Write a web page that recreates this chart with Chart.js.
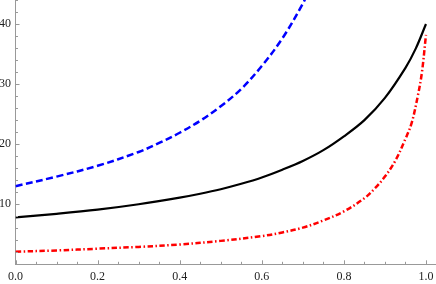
<!DOCTYPE html>
<html>
<head>
<meta charset="utf-8">
<script src="https://cdn.jsdelivr.net/npm/chart.js@4.4.0/dist/chart.umd.min.js"></script>
<style>
  html, body { margin: 0; padding: 0; background: #fff; }
  #wrap { width: 436px; height: 284px; }
</style>
</head>
<body>
<div id="wrap"><canvas id="plot"></canvas></div>
<script>
// values
const blackX = [0, 0.1, 0.2, 0.3, 0.4, 0.45, 0.5, 0.55, 0.6, 0.65, 0.7, 0.75, 0.8, 0.85, 0.9, 0.95, 0.975, 1.0];
const blackY = [7.8, 8.4, 9.1, 10.0, 11.1, 11.75, 12.5, 13.4, 14.45, 15.75, 17.2, 19.0, 21.3, 24.0, 27.7, 32.7, 35.9, 40.0];

const blueX = [0, 0.1, 0.2, 0.3, 0.35, 0.4, 0.45, 0.5, 0.55, 0.6, 0.65, 0.7, 0.72];
const blueY = [13.0, 14.6, 16.4, 18.7, 20.2, 21.9, 23.9, 26.3, 29.2, 33.0, 37.6, 43.4, 46.5];

const redX = [0, 0.1, 0.2, 0.3, 0.4, 0.5, 0.6, 0.65, 0.7, 0.75, 0.8, 0.85, 0.875, 0.9, 0.925, 0.95, 0.965, 0.98, 0.99, 1.0];
const redY = [2.1, 2.3, 2.6, 2.9, 3.3, 3.9, 4.7, 5.3, 6.1, 7.3, 8.8, 11.0, 12.6, 14.6, 17.2, 20.9, 23.5, 28.0, 31.9, 38.2];

const xTicks = [0, 0.2, 0.4, 0.6, 0.8, 1.0];
const yTicks = [10, 20, 30, 40];

const axisGray = '#999999';
const labelFont = { family: 'Liberation Serif', size: 12 };

function toPoints(xs, ys) {
    return xs.map((x, i) => ({ x: x, y: ys[i] }));
}

// Mathematica style tick marks pointing into the plot
const innerTicks = {
    id: 'innerTicks',
    afterDraw(chart) {
        const c = chart.ctx;
        const xs = chart.scales.x;
        const ys = chart.scales.y;
        const y0 = chart.chartArea.bottom;
        const x0 = chart.chartArea.left;
        c.save();
        c.strokeStyle = axisGray;
        c.lineWidth = 1;
        c.beginPath();
        for (let i = 0; i <= 20; i++) {
            const v = i * 0.05;
            const px = Math.round(xs.getPixelForValue(v)) + 0.5;
            const len = (i % 4 === 0) ? 4 : 2.5;
            c.moveTo(px, y0);
            c.lineTo(px, y0 - len);
        }
        for (let i = 1; i <= 22; i++) {
            const v = i * 2;
            const py = Math.round(ys.getPixelForValue(v)) + 0.5;
            const len = (i % 5 === 0) ? 4 : 2.5;
            c.moveTo(x0, py);
            c.lineTo(x0 + len, py);
        }
        c.stroke();
        c.restore();
    }
};

new Chart(document.getElementById('plot'), {
    type: 'line',
    data: {
        datasets: [{
            data: toPoints(blackX, blackY),
            borderColor: '#000000',
            borderWidth: 2.2
        }, {
            data: toPoints(blueX, blueY),
            borderColor: '#0000ff',
            borderWidth: 2.5,
            borderDash: [7, 3.5]
        }, {
            data: toPoints(redX, redY),
            borderColor: '#ff0000',
            borderWidth: 2.5,
            borderDash: [5.5, 2.5, 1.5, 2.5]
        }]
    },
    options: {
        responsive: true,
        maintainAspectRatio: false,
        animation: false,
        layout: { padding: 0 },
        elements: {
            point: { radius: 0 },
            line: { tension: 0.35, fill: false }
        },
        plugins: {
            legend: { display: false },
            tooltip: { enabled: false }
        },
        scales: {
            x: {
                type: 'linear',
                min: 0,
                max: 1.0244,
                afterFit(scale) {
                    scale.height = 19.7;
                    scale.paddingLeft = 0;
                    scale.paddingRight = 0;
                },
                afterBuildTicks(scale) { scale.ticks = xTicks.map(v => ({ value: v })); },
                grid: { display: false, drawTicks: false },
                border: { display: true, color: axisGray, width: 1 },
                ticks: {
                    padding: 5,
                    color: '#222',
                    font: labelFont,
                    maxRotation: 0,
                    autoSkip: false,
                    callback: v => v.toFixed(1)
                }
            },
            y: {
                type: 'linear',
                min: 0,
                max: 44,
                afterFit(scale) {
                    scale.width = 15.5;
                    scale.paddingTop = 0;
                    scale.paddingBottom = 0;
                },
                afterBuildTicks(scale) { scale.ticks = yTicks.map(v => ({ value: v })); },
                grid: { display: false, drawTicks: false },
                border: { display: true, color: axisGray, width: 1 },
                ticks: {
                    padding: 4.5,
                    color: '#222',
                    font: labelFont,
                    autoSkip: false,
                    callback: v => String(v)
                }
            }
        }
    },
    plugins: [innerTicks]
});
</script>
</body>
</html>
